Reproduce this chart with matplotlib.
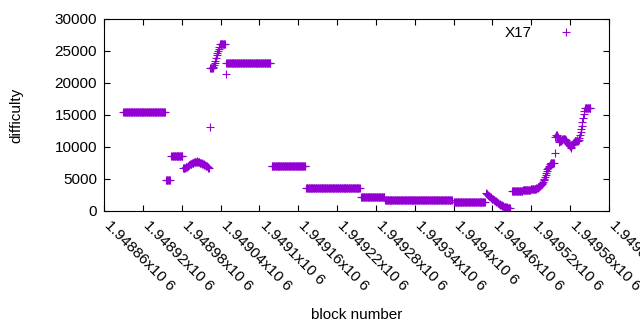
import numpy as np
import matplotlib
matplotlib.use("Agg")
import matplotlib.pyplot as plt
import matplotlib.transforms as mtransforms

plt.rcParams['font.family'] = ['Liberation Sans', 'DejaVu Sans']

# flat runs of difficulty (first block, last block, value)
flat_start = [1948890, 1948956, 1948964, 1949024, 1949039, 1949049, 1949119,
              1949172, 1949257, 1949294, 1949400, 1949490, 1949507, 1949519,
              1949603]
flat_end = [1948954, 1948962, 1948981, 1949028, 1949047, 1949117, 1949171,
            1949255, 1949293, 1949397, 1949448, 1949506, 1949518, 1949527,
            1949611]
flat_value = [15400, 4800, 8550, 22300, 26100, 23100, 7100,
              3550, 2250, 1650, 1350, 3200, 3350, 3500,
              16050]

# block-by-block stretches (first block, values)
arc_start = 1948982
arc_values = [6650, 6700, 6700, 6750, 6800, 6800, 6900, 7000, 7050, 7150,
              7200, 7300, 7350, 7400, 7450, 7500, 7550, 7600, 7650, 7700,
              7700, 7750, 7700, 7700, 7650, 7600, 7550, 7500, 7500, 7450,
              7400, 7350, 7300, 7250, 7200, 7100, 7050, 7000, 6900, 6700]

rise_start = 1949029
rise_values = [22500, 22800, 23100, 23500, 23900, 24400, 24700, 25000, 25300, 25600]

drop_start = 1949450
drop_values = [2800, 2700, 2600, 2500, 2400, 2300, 2250, 2150, 2050, 1950,
               1900, 1800, 1700, 1650, 1550, 1500, 1400, 1350, 1250, 1200,
               1150, 1050, 1000, 950, 900, 850, 800, 750, 700, 650,
               600, 600, 550, 500, 500, 450, 450, 400]

end_start = 1949528
end_values = [3550, 3600, 3650, 3700, 3750, 3900, 4000, 4100, 4250,
              4400, 4600, 4800, 5000, 5300, 5600, 5900, 6200,
              6500, 6700, 6900, 7100, 7300, 7500, 7500, 7500, 7500, 7500, 7500,
              9000, 11500, 11800, 11900, 11700, 11500,
              11100, 10800, 10900, 11000, 10900, 11100, 11200, 11300, 11200, 11300,
              11200, 11100, 11000, 10800, 10600, 10400, 10300,
              10200, 10100, 9800, 10000, 10300, 10500,
              10700, 10800, 10900, 11000, 11000, 11100, 11000, 10900, 11100,
              11400, 11800, 12300, 12800, 13300, 13900, 14500, 15100, 15600]

# single blocks
odd_blocks = [1949022, 1949023, 1949048]
odd_values = [6700, 13100, 21400]

xtick_vals = [1948860, 1948920, 1948980, 1949040, 1949100, 1949160, 1949220,
              1949280, 1949340, 1949400, 1949460, 1949520, 1949580, 1949640]
xtick_labels = ['1.94886x10 6', '1.94892x10 6', '1.94898x10 6', '1.94904x10 6',
                '1.9491x10 6', '1.94916x10 6', '1.94922x10 6', '1.94928x10 6',
                '1.94934x10 6', '1.9494x10 6', '1.94946x10 6', '1.94952x10 6',
                '1.94958x10 6', '1.94964x10 6']
ytick_vals = [0, 5000, 10000, 15000, 20000, 25000, 30000]

# put everything together
blocks = []
diff = []
for s, e, v in zip(flat_start, flat_end, flat_value):
    blocks.extend(range(s, e + 1))
    diff.extend([v] * (e - s + 1))
for s, vals in [(arc_start, arc_values), (rise_start, rise_values),
                (drop_start, drop_values), (end_start, end_values)]:
    blocks.extend(range(s, s + len(vals)))
    diff.extend(vals)
blocks.extend(odd_blocks)
diff.extend(odd_values)

fig = plt.figure(figsize=(6.4, 3.3), dpi=100)
ax = fig.add_axes([104/640, 1 - 211/330, 505/640, 192/330])

ax.plot(blocks, diff, linestyle='none', marker='+', markersize=6,
        markeredgewidth=0.8, color='#9400d3', label='X17')

ax.set_xlim(1948860, 1949640)
ax.set_ylim(0, 30000)
ax.set_yticks(ytick_vals)
ax.set_yticklabels([str(v) for v in ytick_vals], fontsize=11)
ax.set_xticks(xtick_vals)
ax.set_xticklabels(xtick_labels, fontsize=11, rotation=-45,
                   ha='left', va='top', rotation_mode='anchor')
ax.tick_params(direction='in', length=4, width=0.8, top=True, right=True,
               pad=5)
# nudge the slanted labels right so they start at the tick
shift = mtransforms.ScaledTranslation(8/100, 0, fig.dpi_scale_trans)
for lab in ax.get_xticklabels():
    lab.set_transform(lab.get_transform() + shift)
for sp in ax.spines.values():
    sp.set_linewidth(0.8)

ax.set_ylabel('difficulty', fontsize=11)
ax.yaxis.set_label_coords(-0.16, 0.5)
ax.set_xlabel('block number', fontsize=11)
ax.xaxis.set_label_coords(0.5, -0.505)

ax.legend(loc='upper right', bbox_to_anchor=(587/640, 1 - 26/330),
          bbox_transform=fig.transFigure, frameon=False, markerfirst=False,
          fontsize=11, handlelength=2.8, handletextpad=0.8, borderpad=0,
          borderaxespad=0)

fig.savefig('out.png', dpi=100)
